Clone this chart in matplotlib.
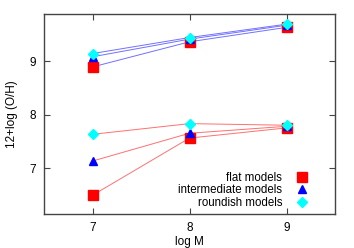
import matplotlib
matplotlib.use("Agg")
import matplotlib.pyplot as plt

plt.rcParams['font.family'] = ['Liberation Sans', 'DejaVu Sans']

logM = [7, 8, 9]
flat_low = [6.49, 7.56, 7.75]
inter_low = [7.13, 7.65, 7.78]
round_low = [7.63, 7.83, 7.80]
flat_high = [8.89, 9.36, 9.63]
inter_high = [9.08, 9.41, 9.67]
round_high = [9.14, 9.44, 9.69]

fig = plt.figure(figsize=(3.54, 2.48), dpi=100)
ax = fig.add_axes([44/354, 34/248, 291/354, 200/248])

red_line = '#ff7070'
blue_line = '#7070ff'
for ys in (flat_low, inter_low, round_low):
    ax.plot(logM, ys, color=red_line, lw=0.7, zorder=1)
for ys in (flat_high, inter_high, round_high):
    ax.plot(logM, ys, color=blue_line, lw=0.7, zorder=1)

ax.plot(logM, flat_low, 's', color='red', ms=7, ls='none', label='flat models', zorder=2)
ax.plot(logM, flat_high, 's', color='red', ms=7, ls='none', zorder=2)
ax.plot(logM, inter_low, '^', color='blue', ms=6, ls='none', label='intermediate models', zorder=3)
ax.plot(logM, inter_high, '^', color='blue', ms=6, ls='none', zorder=3)
ax.plot(logM, round_low, 'D', color='cyan', ms=5, ls='none', label='roundish models', zorder=4)
ax.plot(logM, round_high, 'D', color='cyan', ms=5, ls='none', zorder=4)

ax.set_xlim(6.5, 9.5)
ax.set_ylim(6.14, 9.88)
ax.set_xticks([7, 8, 9])
ax.set_yticks([7, 8, 9])
ax.tick_params(direction='in', top=True, right=True, labelsize=8.5, length=4, color='#444444', pad=6)
for s in ax.spines.values():
    s.set_color('#444444')
    s.set_linewidth(1.0)
ax.set_xlabel('log M', fontsize=8.5, labelpad=1)
ax.set_ylabel('12+log (O/H)', fontsize=8.5, labelpad=8)

leg = ax.legend(loc='lower right', bbox_to_anchor=(0.945, -0.015), frameon=False,
                markerfirst=False, fontsize=8.3,
                handletextpad=1.0, borderaxespad=0.3, labelspacing=0.05, handlelength=1.5)
for t in leg.get_texts():
    t.set_ha('right')
leg._legend_box.align = 'right'

fig.savefig('out.png', dpi=100)
